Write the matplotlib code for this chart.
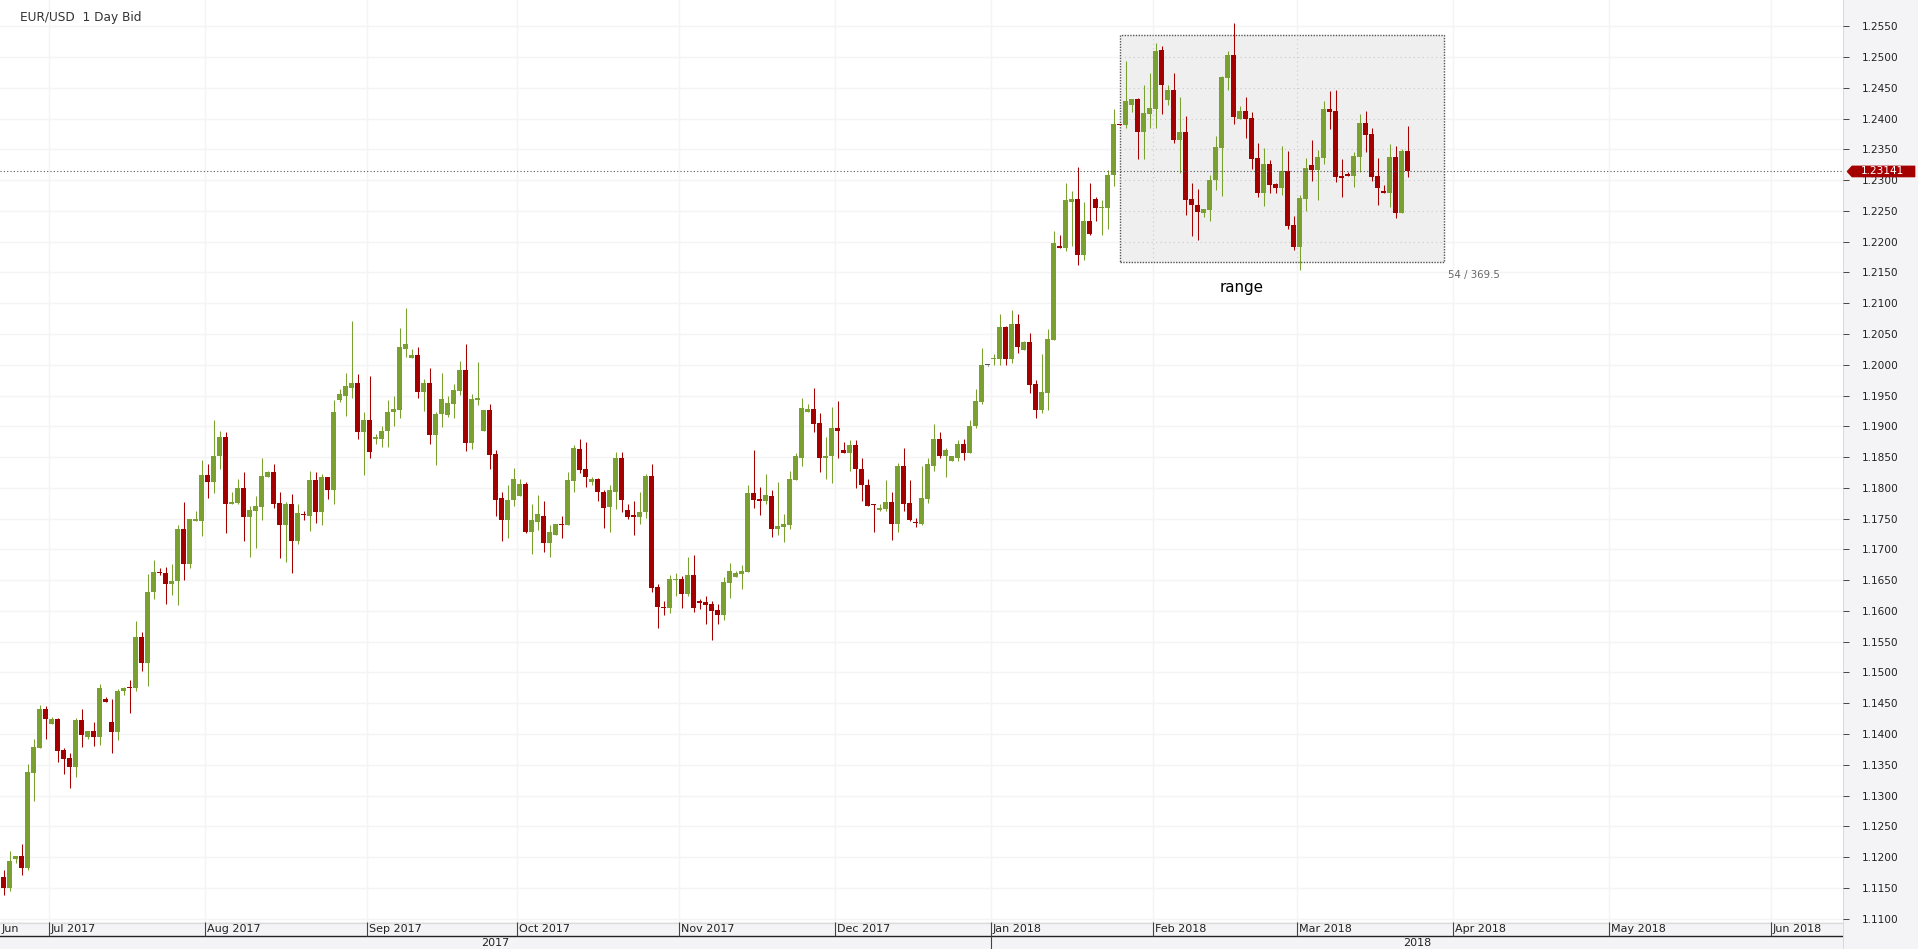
import matplotlib
matplotlib.use('Agg')
import matplotlib.pyplot as plt
import matplotlib.transforms as mtransforms
from matplotlib.patches import Rectangle, Polygon
import numpy as np
import pandas as pd

# EUR/USD daily candles (Sun-Fri sessions), first candle 2017-06-22
start_date = '2017-06-22'

opens = [1.1168, 1.1150, 1.1197, 1.1202, 1.1182, 1.1337, 1.1377, 1.1441, 1.1416, 1.1425,
         1.1374, 1.1361, 1.1346, 1.1423, 1.1395, 1.1405, 1.1395, 1.1457, 1.1420, 1.1403,
         1.1470, 1.1475, 1.1474, 1.1557, 1.1515, 1.1630, 1.1664, 1.1662, 1.1643, 1.1648,
         1.1733, 1.1676, 1.1746, 1.1746, 1.1821, 1.1810, 1.1851, 1.1883, 1.1773, 1.1776,
         1.1800, 1.1753, 1.1763, 1.1769, 1.1818, 1.1826, 1.1776, 1.1740, 1.1774, 1.1714,
         1.1758, 1.1755, 1.1812, 1.1761, 1.1817, 1.1797, 1.1942, 1.1950, 1.1963, 1.1970,
         1.1890, 1.1910, 1.1880, 1.1880, 1.1892, 1.1923, 1.1926, 1.2026, 1.2011, 1.2016,
         1.1956, 1.1971, 1.1886, 1.1920, 1.1918, 1.1936, 1.1958, 1.1992, 1.1873, 1.1943,
         1.1892, 1.1927, 1.1855, 1.1783, 1.1747, 1.1780, 1.1786, 1.1807, 1.1729, 1.1745,
         1.1755, 1.1711, 1.1724, 1.1742, 1.1739, 1.1811, 1.1863, 1.1830, 1.1809, 1.1814,
         1.1794, 1.1769, 1.1794, 1.1849, 1.1764, 1.1756, 1.1753, 1.1760, 1.1820, 1.1639,
         1.1606, 1.1604, 1.1650, 1.1652, 1.1627, 1.1658, 1.1616, 1.1614, 1.1611, 1.1601,
         1.1593, 1.1645, 1.1655, 1.1660, 1.1663, 1.1791, 1.1782, 1.1778, 1.1786, 1.1733,
         1.1737, 1.1740, 1.1813, 1.1849, 1.1924, 1.1928, 1.1905, 1.1848, 1.1851, 1.1898,
         1.1861, 1.1856, 1.1869, 1.1831, 1.1805, 1.1773, 1.1764, 1.1766, 1.1777, 1.1742,
         1.1836, 1.1776, 1.1745, 1.1742, 1.1782, 1.1836, 1.1879, 1.1851, 1.1843, 1.1849,
         1.1872, 1.1856, 1.1900, 1.1939, 1.1999, 1.2009, 1.2009, 1.2061, 1.2009, 1.2066,
         1.2024, 1.2037, 1.1968, 1.1926, 1.1954, 1.2040, 1.2193, 1.2190, 1.2265, 1.2270,
         1.2179, 1.2234, 1.2270, 1.2254, 1.2254, 1.2308, 1.2392, 1.2389, 1.2422, 1.2432,
         1.2379, 1.2407, 1.2415, 1.2511, 1.2430, 1.2446, 1.2365, 1.2379, 1.2270, 1.2260,
         1.2246, 1.2251, 1.2300, 1.2352, 1.2466, 1.2504, 1.2400, 1.2413, 1.2401, 1.2336,
         1.2279, 1.2326, 1.2294, 1.2287, 1.2315, 1.2227, 1.2191, 1.2269, 1.2325, 1.2317,
         1.2336, 1.2416, 1.2413, 1.2307, 1.2310, 1.2307, 1.2338, 1.2393, 1.2375, 1.2307,
         1.2282, 1.2279, 1.2338, 1.2246, 1.2347]
highs = [1.1179, 1.1210, 1.1202, 1.1222, 1.1351, 1.1392, 1.1447, 1.1446, 1.1428, 1.1426,
         1.1377, 1.1369, 1.1426, 1.1441, 1.1405, 1.1420, 1.1481, 1.1460, 1.1457, 1.1473,
         1.1477, 1.1488, 1.1583, 1.1565, 1.1660, 1.1683, 1.1670, 1.1671, 1.1677, 1.1739,
         1.1777, 1.1750, 1.1762, 1.1846, 1.1839, 1.1911, 1.1893, 1.1890, 1.1794, 1.1815,
         1.1825, 1.1771, 1.1786, 1.1848, 1.1828, 1.1839, 1.1794, 1.1777, 1.1790, 1.1774,
         1.1763, 1.1828, 1.1825, 1.1823, 1.1818, 1.1942, 1.1960, 1.1986, 1.2071, 1.1985,
         1.1924, 1.1981, 1.1887, 1.1901, 1.1942, 1.1950, 1.2060, 1.2092, 1.2026, 1.2029,
         1.1977, 1.1995, 1.1923, 1.1987, 1.1949, 1.1969, 1.2006, 1.2034, 1.1953, 1.2005,
         1.1927, 1.1936, 1.1861, 1.1794, 1.1804, 1.1832, 1.1814, 1.1810, 1.1773, 1.1788,
         1.1778, 1.1739, 1.1742, 1.1755, 1.1825, 1.1869, 1.1879, 1.1874, 1.1817, 1.1816,
         1.1796, 1.1805, 1.1859, 1.1859, 1.1774, 1.1778, 1.1794, 1.1822, 1.1838, 1.1644,
         1.1616, 1.1658, 1.1662, 1.1657, 1.1688, 1.1691, 1.1619, 1.1624, 1.1616, 1.1611,
         1.1655, 1.1678, 1.1665, 1.1675, 1.1805, 1.1861, 1.1802, 1.1822, 1.1797, 1.1809,
         1.1758, 1.1828, 1.1856, 1.1946, 1.1937, 1.1962, 1.1921, 1.1883, 1.1932, 1.1941,
         1.1875, 1.1877, 1.1877, 1.1849, 1.1815, 1.1774, 1.1773, 1.1812, 1.1794, 1.1841,
         1.1864, 1.1813, 1.1751, 1.1835, 1.1849, 1.1903, 1.1890, 1.1864, 1.1852, 1.1877,
         1.1879, 1.1911, 1.1960, 1.2027, 1.2000, 1.2017, 1.2083, 1.2063, 1.2089, 1.2083,
         1.2039, 1.2052, 1.1975, 1.2017, 1.2058, 1.2218, 1.2211, 1.2296, 1.2283, 1.2322,
         1.2265, 1.2295, 1.2272, 1.2267, 1.2316, 1.2415, 1.2392, 1.2493, 1.2432, 1.2433,
         1.2454, 1.2474, 1.2523, 1.2518, 1.2454, 1.2474, 1.2435, 1.2405, 1.2295, 1.2286,
         1.2253, 1.2308, 1.2372, 1.2470, 1.2510, 1.2556, 1.2421, 1.2435, 1.2411, 1.2360,
         1.2352, 1.2333, 1.2295, 1.2356, 1.2347, 1.2242, 1.2276, 1.2336, 1.2365, 1.2349,
         1.2429, 1.2445, 1.2447, 1.2334, 1.2313, 1.2346, 1.2408, 1.2413, 1.2385, 1.2336,
         1.2292, 1.2359, 1.2356, 1.2351, 1.2388]
lows = [1.1138, 1.1145, 1.1191, 1.1171, 1.1179, 1.1291, 1.1377, 1.1392, 1.1416, 1.1355,
        1.1335, 1.1312, 1.1330, 1.1379, 1.1392, 1.1381, 1.1382, 1.1452, 1.1369, 1.1390,
        1.1464, 1.1434, 1.1470, 1.1502, 1.1478, 1.1620, 1.1658, 1.1612, 1.1626, 1.1610,
        1.1650, 1.1669, 1.1746, 1.1722, 1.1784, 1.1792, 1.1830, 1.1727, 1.1773, 1.1773,
        1.1714, 1.1688, 1.1702, 1.1748, 1.1818, 1.1768, 1.1686, 1.1679, 1.1662, 1.1709,
        1.1748, 1.1730, 1.1743, 1.1740, 1.1782, 1.1773, 1.1939, 1.1916, 1.1946, 1.1880,
        1.1821, 1.1849, 1.1872, 1.1867, 1.1867, 1.1901, 1.1913, 1.2013, 1.2011, 1.1946,
        1.1925, 1.1871, 1.1837, 1.1899, 1.1915, 1.1913, 1.1951, 1.1860, 1.1863, 1.1935,
        1.1892, 1.1830, 1.1755, 1.1714, 1.1719, 1.1770, 1.1786, 1.1727, 1.1693, 1.1731,
        1.1696, 1.1688, 1.1724, 1.1718, 1.1739, 1.1793, 1.1824, 1.1802, 1.1804, 1.1778,
        1.1734, 1.1729, 1.1766, 1.1761, 1.1750, 1.1724, 1.1742, 1.1751, 1.1631, 1.1572,
        1.1593, 1.1596, 1.1624, 1.1604, 1.1624, 1.1598, 1.1603, 1.1578, 1.1552, 1.1578,
        1.1585, 1.1621, 1.1655, 1.1636, 1.1663, 1.1768, 1.1756, 1.1773, 1.1720, 1.1724,
        1.1712, 1.1733, 1.1813, 1.1836, 1.1924, 1.1890, 1.1826, 1.1815, 1.1808, 1.1849,
        1.1856, 1.1828, 1.1800, 1.1779, 1.1771, 1.1728, 1.1763, 1.1763, 1.1715, 1.1728,
        1.1763, 1.1746, 1.1737, 1.1740, 1.1776, 1.1828, 1.1848, 1.1817, 1.1843, 1.1843,
        1.1846, 1.1856, 1.1897, 1.1936, 1.1998, 1.1999, 1.1999, 1.1999, 1.2003, 1.2019,
        1.2024, 1.1954, 1.1913, 1.1921, 1.1926, 1.2040, 1.2190, 1.2185, 1.2193, 1.2162,
        1.2171, 1.2211, 1.2233, 1.2211, 1.2221, 1.2290, 1.2389, 1.2384, 1.2410, 1.2335,
        1.2334, 1.2384, 1.2384, 1.2407, 1.2422, 1.2361, 1.2312, 1.2244, 1.2210, 1.2203,
        1.2240, 1.2233, 1.2284, 1.2274, 1.2447, 1.2391, 1.2400, 1.2369, 1.2318, 1.2273,
        1.2258, 1.2279, 1.2279, 1.2276, 1.2220, 1.2186, 1.2154, 1.2250, 1.2299, 1.2268,
        1.2326, 1.2383, 1.2297, 1.2273, 1.2307, 1.2289, 1.2313, 1.2346, 1.2299, 1.2259,
        1.2279, 1.2256, 1.2238, 1.2246, 1.2305]
closes = [1.1150, 1.1194, 1.1202, 1.1183, 1.1338, 1.1379, 1.1441, 1.1425, 1.1425, 1.1372,
          1.1359, 1.1346, 1.1423, 1.1399, 1.1405, 1.1395, 1.1475, 1.1452, 1.1403, 1.1470,
          1.1475, 1.1474, 1.1557, 1.1515, 1.1630, 1.1664, 1.1662, 1.1643, 1.1648, 1.1733,
          1.1676, 1.1749, 1.1749, 1.1821, 1.1810, 1.1852, 1.1883, 1.1773, 1.1777, 1.1800,
          1.1753, 1.1764, 1.1771, 1.1820, 1.1826, 1.1774, 1.1740, 1.1774, 1.1714, 1.1759,
          1.1756, 1.1812, 1.1761, 1.1817, 1.1797, 1.1923, 1.1952, 1.1965, 1.1970, 1.1890,
          1.1910, 1.1859, 1.1882, 1.1893, 1.1924, 1.1928, 1.2029, 1.2034, 1.2016, 1.1956,
          1.1971, 1.1886, 1.1920, 1.1944, 1.1938, 1.1959, 1.1992, 1.1873, 1.1944, 1.1946,
          1.1927, 1.1853, 1.1781, 1.1747, 1.1781, 1.1814, 1.1807, 1.1729, 1.1747, 1.1757,
          1.1711, 1.1729, 1.1742, 1.1739, 1.1812, 1.1864, 1.1829, 1.1817, 1.1814, 1.1793,
          1.1768, 1.1796, 1.1849, 1.1781, 1.1753, 1.1753, 1.1761, 1.1820, 1.1637, 1.1606,
          1.1604, 1.1652, 1.1652, 1.1627, 1.1658, 1.1604, 1.1613, 1.1609, 1.1600, 1.1593,
          1.1647, 1.1665, 1.1662, 1.1665, 1.1791, 1.1781, 1.1778, 1.1789, 1.1733, 1.1738,
          1.1742, 1.1815, 1.1851, 1.1929, 1.1928, 1.1903, 1.1848, 1.1852, 1.1898, 1.1893,
          1.1856, 1.1869, 1.1830, 1.1804, 1.1771, 1.1772, 1.1768, 1.1777, 1.1742, 1.1836,
          1.1774, 1.1748, 1.1743, 1.1784, 1.1838, 1.1879, 1.1851, 1.1861, 1.1851, 1.1872,
          1.1856, 1.1901, 1.1941, 1.1999, 1.1999, 1.2011, 1.2062, 1.2009, 1.2066, 1.2029,
          1.2037, 1.1967, 1.1926, 1.1955, 1.2042, 1.2198, 1.2190, 1.2267, 1.2270, 1.2179,
          1.2234, 1.2213, 1.2254, 1.2255, 1.2308, 1.2392, 1.2389, 1.2428, 1.2432, 1.2379,
          1.2409, 1.2417, 1.2510, 1.2454, 1.2446, 1.2365, 1.2379, 1.2268, 1.2259, 1.2249,
          1.2253, 1.2300, 1.2354, 1.2468, 1.2504, 1.2403, 1.2413, 1.2400, 1.2334, 1.2279,
          1.2326, 1.2292, 1.2287, 1.2315, 1.2225, 1.2191, 1.2271, 1.2320, 1.2317, 1.2338,
          1.2416, 1.2411, 1.2305, 1.2303, 1.2307, 1.2339, 1.2393, 1.2374, 1.2305, 1.2287,
          1.2279, 1.2338, 1.2246, 1.2347, 1.23141]

# range tool box (bar index, price)
box_start, box_end = 186, 240
box_low, box_high = 1.21670, 1.25365

price_levels = np.round(np.arange(1.1100, 1.25501, 0.005), 4)

GREEN = '#7aa130'
RED = '#a50000'
GRID = '#f4f4f4'
STRIP = '#f4f4f6'

W, H = 1918, 949
plot_w, plot_h = 1843, 922
px_per_bar = 6.0
first_center = 3.5
px_per_unit = 6154.0

fig = plt.figure(figsize=(W / 100, H / 100), dpi=100)
fig.patch.set_facecolor('white')

ax = fig.add_axes([0, (H - plot_h) / H, plot_w / W, plot_h / H])
axr = fig.add_axes([plot_w / W, 0, (W - plot_w) / W, 1])
axb = fig.add_axes([0, 0, plot_w / W, (H - plot_h) / H])
axr.set_zorder(0)
axb.set_zorder(1)
ax.set_zorder(2)

n = len(closes)
x = np.arange(n)
o = np.array(opens)
hi = np.array(highs)
lo = np.array(lows)
c = np.array(closes)

x_left = -first_center / px_per_bar
x_right = (plot_w - first_center) / px_per_bar
y_top = 1.2550 + 26.3 / px_per_unit
y_bottom = y_top - plot_h / px_per_unit
ax.set_xlim(x_left, x_right)
ax.set_ylim(y_bottom, y_top)

# dates / month boundaries
dates = pd.date_range(start_date, periods=420)
dates = dates[dates.dayofweek != 5]
months = dates.to_period('M')
firsts = np.where(months[1:] != months[:-1])[0] + 1
firsts = [i for i in firsts if i - 0.5 < x_right]
bounds = [i - 0.5 for i in firsts]

# grid
for v in price_levels:
    ax.axhline(v, color=GRID, lw=1, zorder=0)
for b in bounds:
    ax.axvline(b, color=GRID, lw=1, zorder=0)

# range box
ax.add_patch(Rectangle((box_start, box_low), box_end - box_start, box_high - box_low,
                       facecolor='#efefef', edgecolor='#555555', lw=1,
                       linestyle=(0, (1, 1)), zorder=1))
for v in price_levels:
    if box_low < v < box_high:
        ax.hlines(v, box_start, box_end, colors='#cacaca', lw=0.8,
                  linestyles=(0, (1, 3)), zorder=1.5)
for b in bounds:
    if box_start < b < box_end:
        ax.vlines(b, box_low, box_high, colors='#cacaca', lw=0.8,
                  linestyles=(0, (1, 3)), zorder=1.5)

# candles
cols = np.where(c > o, GREEN, np.where(c < o, RED, '#555555'))
ax.vlines(x, lo, hi, colors=cols, lw=0.75, zorder=3)
body = np.maximum(np.abs(c - o), 1.0 / px_per_unit)
ax.bar(x, body, bottom=np.minimum(o, c), width=5 / px_per_bar, color=cols,
       lw=0, zorder=4)

# last price line
ax.axhline(c[-1], color='#555555', lw=0.8, linestyle=(0, (1, 2)), zorder=5)

# labels
ax.text(20 / plot_w, 1 - 17 / plot_h, 'EUR/USD  1 Day Bid', transform=ax.transAxes,
        fontsize=8.7, color='#333333', ha='left', va='center')
ax.text(206.3, box_low - 26 / px_per_unit, 'range', fontsize=10.9, color='black',
        ha='center', va='center', zorder=6)
bars = box_end - box_start
pips = (box_high - box_low) * 1e4
ax.text(box_end + 0.7, box_low - 13 / px_per_unit, f'{bars} / {pips:.1f}',
        fontsize=7.3, color='#666666', ha='left', va='center', zorder=6)

# y axis on right
ax.yaxis.tick_right()
ax.set_yticks(price_levels)
ax.set_yticklabels([f'{v:.4f}' for v in price_levels])
ax.tick_params(axis='y', direction='out', length=4.5, width=0.7, colors='#444444',
               pad=9, labelsize=7.6, labelcolor='#222222')
ax.set_xticks([])
for s in ax.spines.values():
    s.set_visible(False)

# right strip
axr.set_facecolor(STRIP)
axr.set_xticks([])
axr.set_yticks([])
for s in axr.spines.values():
    s.set_visible(False)
axr.set_xlim(0, 1)
axr.set_ylim(0, 1)
axr.axvline(0, color='#d4d4d4', lw=1.2)

# bottom strip
axb.set_facecolor(STRIP)
axb.set_xlim(x_left, x_right)
axb.set_ylim(0, H - plot_h)
axb.set_xticks([])
axb.set_yticks([])
for s in axb.spines.values():
    s.set_visible(False)
axb.axhline(H - plot_h - 0.5, color='#dcdcdc', lw=1)
axb.axhline(13, color='#222222', lw=1)
axb.vlines(bounds, 13, H - plot_h, colors='#444444', lw=0.8)
axb.text(x_left + 0.2, 20.5, 'Jun', fontsize=8, color='#222222', ha='left', va='center')
for i, b in zip(firsts, bounds):
    axb.text(b + 0.35, 20.5, dates[i].strftime('%b %Y'), fontsize=8, color='#222222',
             ha='left', va='center')
year_b = [b for i, b in zip(firsts, bounds) if dates[i].month == 1]
edges = [x_left] + year_b + [x_right]
axb.vlines(year_b, 0, 13, colors='#444444', lw=0.8)
for k in range(len(edges) - 1):
    yr = dates[firsts[0]].year + k
    axb.text((edges[k] + edges[k + 1]) / 2, 6.3, str(yr), fontsize=8, color='#222222',
             ha='center', va='center')

# last price tag
ypx = ax.transData.transform((0, c[-1]))[1]
tip = plot_w + 4
tag = Polygon([(tip, ypx), (tip + 5, ypx + 5.5), (W - 3, ypx + 5.5),
               (W - 3, ypx - 5.5), (tip + 5, ypx - 5.5)], closed=True,
              facecolor=RED, edgecolor=RED, lw=0.5,
              transform=mtransforms.IdentityTransform(), zorder=10)
fig.add_artist(tag)
fig.text((tip + W - 3) / 2 / W + 1 / W, ypx / H, f'{c[-1]:.5f}', color='white',
         fontsize=7.6, ha='center', va='center', zorder=11)

fig.savefig('out.png', dpi=100, facecolor='white')
